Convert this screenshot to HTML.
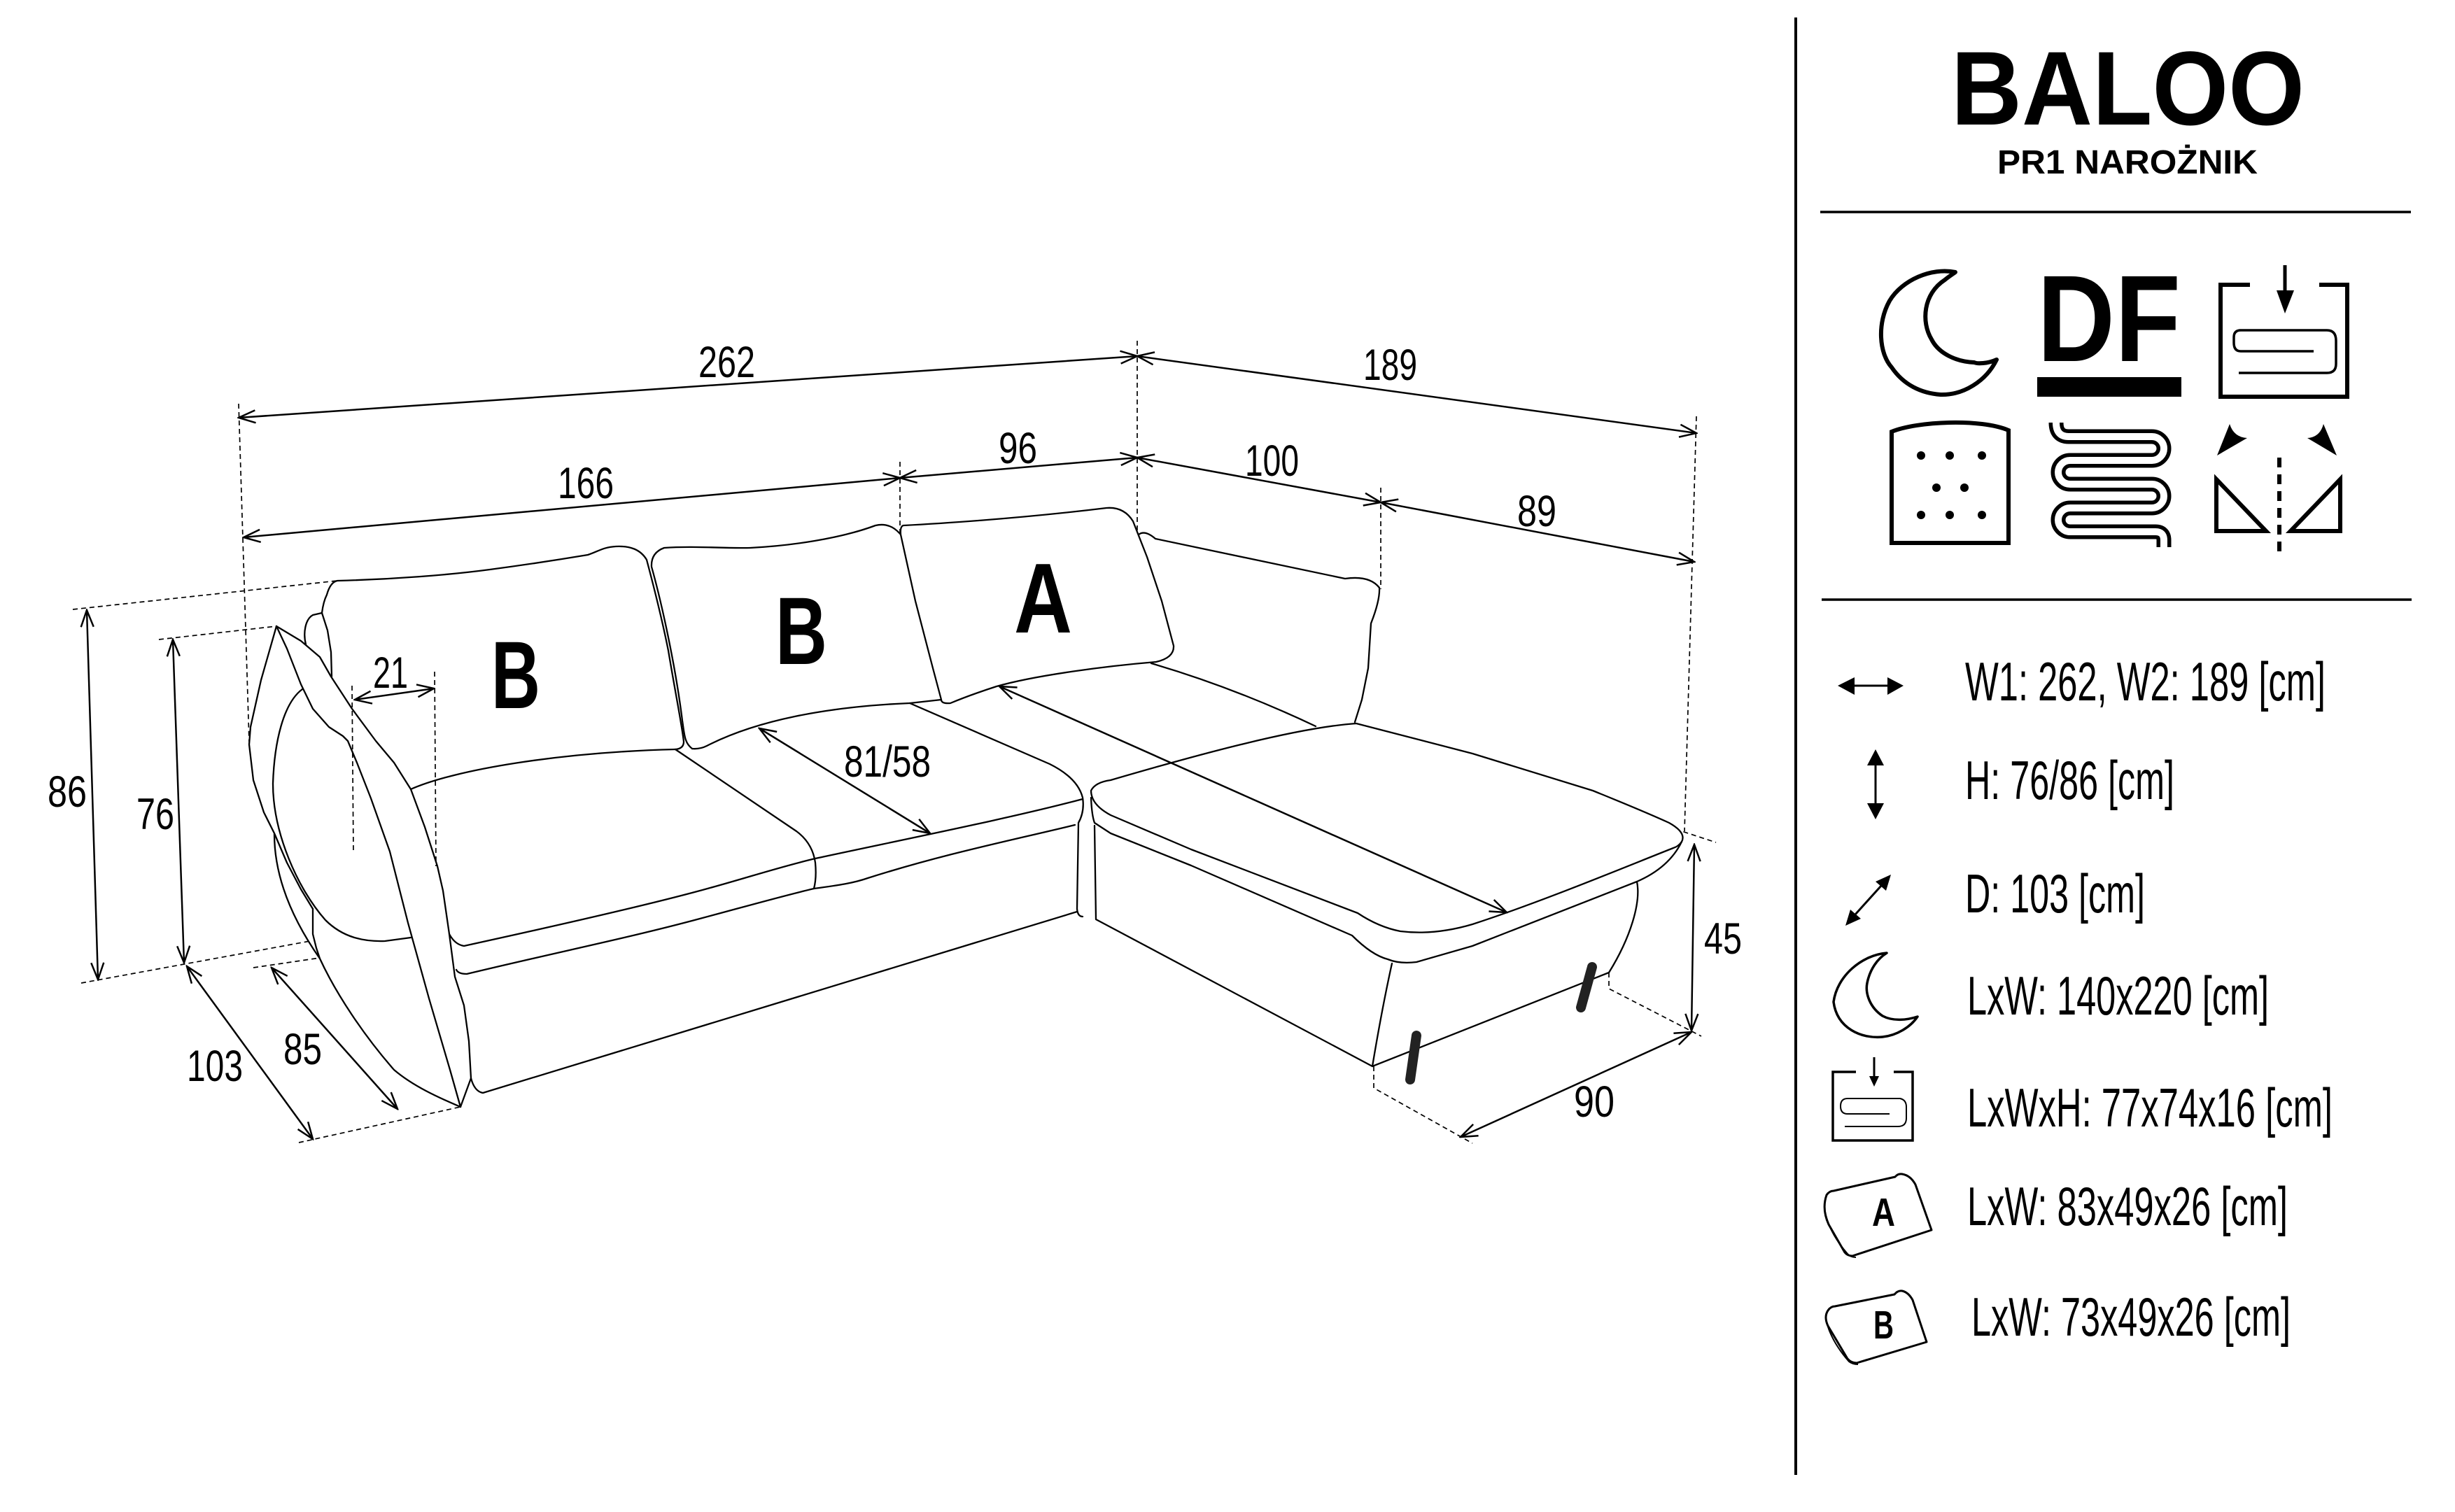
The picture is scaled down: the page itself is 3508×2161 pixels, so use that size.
<!DOCTYPE html>
<html><head><meta charset="utf-8"><style>
html,body{margin:0;padding:0;background:#fff;}
svg{display:block;}
text{font-family:"Liberation Sans",Arial,sans-serif;fill:#000;}
</style></head><body>
<svg width="3508" height="2161" viewBox="0 0 3508 2161" xmlns="http://www.w3.org/2000/svg">
<defs>
<marker id="o" viewBox="0 0 30 24" refX="28" refY="12" markerWidth="30" markerHeight="24" markerUnits="userSpaceOnUse" orient="auto-start-reverse">
<path d="M4,3 L28,12 L4,21" fill="none" stroke="#000" stroke-width="2.5"/>
</marker>
</defs>
<rect width="3508" height="2161" fill="#fff"/>

<!-- ============ DIMENSION LINES ============ -->
<g fill="none" stroke="#000" stroke-width="2.5" marker-start="url(#o)" marker-end="url(#o)">
<path d="M341,597 L1625,509"/>
<path d="M1625,509 L2424,619"/>
<path d="M348,768 L1286,683"/>
<path d="M1286,683 L1625,654"/>
<path d="M1625,654 L1973,718"/>
<path d="M1973,718 L2421,803"/>
<path d="M124,872 L140,1400"/>
<path d="M247,914 L263,1376"/>
<path d="M267,1381 L447,1628"/>
<path d="M388,1383 L568,1585"/>
<path d="M507,1000 L620,984"/>
<path d="M1085,1041 L1329,1191"/>
<path d="M2421,1207 L2417,1473"/>
</g>

<!-- dashed extension lines -->
<g fill="none" stroke="#000" stroke-width="1.7" stroke-dasharray="7 5">
<path d="M341,577 L356,1060"/>
<path d="M1286,660 L1286,762"/>
<path d="M1625,487 L1625,762"/>
<path d="M1973,697 L1973,842"/>
<path d="M2424,595 L2407,1188"/>
<path d="M104,871 L482,830"/>
<path d="M227,914 L395,895"/>
<path d="M116,1405 L443,1345"/>
<path d="M362,1383 L457,1369"/>
<path d="M427,1633 L658,1582"/>
<path d="M503,980 L505,1217"/>
<path d="M621,960 L623,1238"/>
<path d="M2394,1185 L2452,1204"/>
<path d="M2299,1390 L2299,1413 L2431,1481"/>
<path d="M1963,1524 L1963,1555 L2104,1634"/>
</g>

<!-- dimension labels -->
<g font-size="63">
<text x="998" y="539" textLength="81" lengthAdjust="spacingAndGlyphs">262</text>
<text x="1948" y="543" textLength="77" lengthAdjust="spacingAndGlyphs">189</text>
<text x="797" y="712" textLength="80" lengthAdjust="spacingAndGlyphs">166</text>
<text x="1427" y="662" textLength="55" lengthAdjust="spacingAndGlyphs">96</text>
<text x="1779" y="680" textLength="77" lengthAdjust="spacingAndGlyphs">100</text>
<text x="2168" y="752" textLength="56" lengthAdjust="spacingAndGlyphs">89</text>
<text x="68" y="1153" textLength="56" lengthAdjust="spacingAndGlyphs">86</text>
<text x="195" y="1185" textLength="54" lengthAdjust="spacingAndGlyphs">76</text>
<text x="267" y="1545" textLength="80" lengthAdjust="spacingAndGlyphs">103</text>
<text x="405" y="1521" textLength="55" lengthAdjust="spacingAndGlyphs">85</text>
<text x="533" y="983" textLength="50" lengthAdjust="spacingAndGlyphs">21</text>
<text x="1206" y="1110" textLength="124" lengthAdjust="spacingAndGlyphs">81/58</text>
<text x="1740" y="1121" textLength="179" lengthAdjust="spacingAndGlyphs">168/145</text>
<text x="2435" y="1363" textLength="54" lengthAdjust="spacingAndGlyphs">45</text>
<text x="2249" y="1596" textLength="58" lengthAdjust="spacingAndGlyphs">90</text>
</g>

<!-- ============ SOFA ============ -->
<g fill="none" stroke="#000" stroke-width="2.3" stroke-linejoin="round" stroke-linecap="round">
<!-- back cushion B1 -->
<path d="M474,967 L473,932 L468,901 L460,876 Q462,860 467,850 Q472,832 482,830 C 560,828 640,822 700,814 C 760,806 810,798 840,793 C 855,788 862,782 880,781 C 900,780 915,785 924,800 C 932,830 945,880 955,930 C 965,990 975,1040 977,1060 Q977,1070 965,1071"/>
<path d="M437,921 C 433,905 436,885 447,879 L460,876"/>
<path d="M587,1128 C 650,1100 800,1075 965,1071"/>
<!-- back cushion B2 -->
<path d="M989,1070 C 978,1062 978,1050 975,1030 C 965,950 945,860 931,810 Q930,790 949,783 C 990,780 1040,784 1072,783 C 1130,780 1200,770 1251,751 Q1272,746 1287,764"/>
<path d="M989,1070 Q1000,1071 1010,1066 C 1080,1030 1180,1010 1300,1005 L1345,1000"/>
<!-- seat 1 right boundary -->
<path d="M965,1071 L1138,1188 Q1161,1205 1165,1233 Q1167,1255 1163,1270"/>
<!-- seat front top (seat1 + seat2) -->
<path d="M642,1335 Q650,1350 663,1352 C 800,1322 930,1292 1000,1273 C 1060,1257 1110,1240 1165,1227 C 1300,1198 1450,1168 1547,1142"/>
<!-- seat 2 right boundary -->
<path d="M1300,1005 C 1380,1040 1460,1075 1500,1092 Q1540,1112 1547,1140 Q1550,1160 1541,1176 L1539,1299 Q1540,1310 1547,1310"/>
<!-- seat bottom / base top -->
<path d="M652,1386 Q655,1392 667,1392 C 800,1360 900,1340 1000,1313 C 1060,1297 1120,1280 1163,1270 C 1200,1265 1220,1262 1240,1255 C 1350,1220 1450,1200 1536,1179"/>
<!-- base bottom -->
<path d="M673,1541 Q678,1560 690,1562 L1539,1303"/>
<!-- armrest -->
<path d="M395,895 L430,916 L457,939 L473,967 L503,1013 L537,1059 L563,1090 L587,1128 L607,1182 L625,1238 L633,1273 L642,1335 L650,1396 L663,1437 L670,1488 L673,1541 L658,1582"/>
<path d="M395,895 L410,927 L430,978 L447,1013 L470,1039 L490,1052 L497,1059 L510,1090 L530,1141 L557,1217 L583,1319 L613,1427 L643,1529 L658,1582"/>
<path d="M395,895 L373,972 L358,1039 L356,1064 L362,1115 L377,1161 L392,1191 L410,1233 L430,1271 L447,1299"/>
<path d="M432,985 C 405,1005 392,1060 390,1120 C 390,1190 425,1270 465,1315 C 490,1340 520,1346 550,1345 L587,1340"/>
<path d="M392,1192 C 392,1250 415,1310 457,1370 C 480,1420 520,1480 563,1529 C 590,1552 625,1568 658,1582"/>
<path d="M447,1299 L447,1335 L452,1355 L457,1370"/>
<!-- A cushion -->
<path fill="#fff" d="M1291,751 C 1330,749 1450,742 1581,726 Q1606,724 1619,745 L1639,796 L1660,859 L1677,923 Q1678,940 1652,946 C 1580,952 1480,965 1424,981 C 1390,992 1370,1000 1358,1005 Q1345,1006 1345,1000 L1333,955 L1308,859 L1287,764 Q1286,752 1291,751 Z"/>
<!-- corner back -->
<path d="M1627,764 Q1636,757 1651,770 L1922,827 Q1957,822 1971,840 Q1972,858 1959,891 L1955,955 L1946,1000 L1936,1032"/>
<path d="M1645,948 C 1720,970 1800,1000 1880,1038"/>
<!-- chaise top -->
<path fill="#fff" d="M1559,1130 Q1565,1118 1587,1115 C 1700,1082 1850,1040 1938,1034 L2104,1077 L2276,1130 Q2350,1160 2385,1176 Q2410,1190 2403,1203 Q2398,1210 2391,1212 C 2320,1240 2200,1290 2104,1321 Q2050,1337 2001,1331 Q1970,1325 1940,1305 L1702,1214 L1587,1165 Q1559,1150 1559,1130 Z"/>
<path d="M1559,1140 Q1560,1165 1564,1176 L1587,1191 L1702,1237 L1932,1337 Q1960,1365 1983,1371 Q2000,1378 2024,1375 L2104,1352 L2339,1260 Q2385,1240 2403,1203"/>
<!-- chaise base -->
<path d="M1564,1180 L1566,1314 L1961,1524"/>
<path d="M1989,1377 Q1975,1440 1961,1524 L2299,1390"/>
<path d="M2339,1260 C 2345,1290 2330,1340 2299,1390"/>
</g>
<!-- legs -->
<g stroke="#222" stroke-width="14" stroke-linecap="round">
<path d="M2024,1480 L2015,1543"/>
<path d="M2275,1382 L2259,1440"/>
</g>
<!-- arrows drawn over chaise -->
<path d="M1428,981 L2153,1304" fill="none" stroke="#000" stroke-width="2.5" marker-start="url(#o)" marker-end="url(#o)"/>
<path d="M2087,1625 L2417,1475" fill="none" stroke="#000" stroke-width="2.5" marker-start="url(#o)" marker-end="url(#o)"/>

<!-- cushion letters -->
<g font-weight="bold">
<text x="702" y="1012" font-size="137" textLength="70" lengthAdjust="spacingAndGlyphs">B</text>
<text x="1108" y="949" font-size="137" textLength="74" lengthAdjust="spacingAndGlyphs">B</text>
<text x="1449" y="904" font-size="142" textLength="83" lengthAdjust="spacingAndGlyphs">A</text>
</g>

<!-- ============ RIGHT PANEL ============ -->
<line x1="2566" y1="25" x2="2566" y2="2108" stroke="#000" stroke-width="4"/>
<text x="2788" y="178" font-size="150" font-weight="bold" textLength="505" lengthAdjust="spacingAndGlyphs">BALOO</text>
<text x="2854" y="248" font-size="48" font-weight="bold" textLength="372" lengthAdjust="spacingAndGlyphs">PR1 NAROŻNIK</text>
<line x1="2601" y1="303" x2="3445" y2="303" stroke="#000" stroke-width="3.5"/>
<line x1="2603" y1="857" x2="3446" y2="857" stroke="#000" stroke-width="3.5"/>

<!-- icon: moon -->
<path d="M2794,389 C 2760,382 2718,400 2700,430 C 2682,462 2685,505 2703,525 C 2720,550 2745,562 2773,564 C 2805,565 2838,545 2853,514 C 2840,520 2825,520 2821,518 C 2795,517 2770,505 2760,485 C 2745,460 2748,420 2779,400 C 2785,395 2790,392 2794,389 Z" fill="none" stroke="#000" stroke-width="6" stroke-linejoin="round"/>
<!-- icon: DF -->
<text x="2911" y="516" font-size="176" font-weight="bold" textLength="205" lengthAdjust="spacingAndGlyphs">DF</text>
<rect x="2911" y="539" width="206" height="28" fill="#000"/>
<!-- icon: storage -->
<path d="M3215,407 L3173,407 L3173,567 L3354,567 L3354,407 L3314,407" fill="none" stroke="#000" stroke-width="6"/>
<line x1="3265" y1="379" x2="3265" y2="420" stroke="#000" stroke-width="5"/>
<path d="M3253,415 L3278,415 L3265,448 Z" fill="#000"/>
<path d="M3200,472 L3325,472 Q3338,472 3338,487 L3338,520 Q3338,533 3325,533 L3199,533 M3306,502 L3202,502 Q3192,502 3192,490 L3192,482 Q3192,472 3202,472" fill="none" stroke="#000" stroke-width="3.5"/>
<!-- icon: foam -->
<path d="M2703,776 L2703,617 C 2740,602 2830,598 2870,615 L2870,776 Z" fill="none" stroke="#000" stroke-width="6"/>
<g fill="#000">
<circle cx="2745" cy="651" r="6"/><circle cx="2786" cy="651" r="6"/><circle cx="2832" cy="651" r="6"/>
<circle cx="2767" cy="697" r="6"/><circle cx="2807" cy="697" r="6"/>
<circle cx="2745" cy="736" r="6"/><circle cx="2786" cy="736" r="6"/><circle cx="2832" cy="736" r="6"/>
</g>
<!-- icon: spring -->
<path d="M2938,604 Q2938,624 2956,624 L3075,624 A17,17 0 0 1 3075,658 L2958,658 A17,17 0 0 0 2958,692 L3075,692 A17,17 0 0 1 3075,726 L2958,726 A17,17 0 0 0 2958,760 L3080,760 Q3092,760 3092,772 L3092,782" fill="none" stroke="#000" stroke-width="21"/>
<path d="M2938,604 Q2938,624 2956,624 L3075,624 A17,17 0 0 1 3075,658 L2958,658 A17,17 0 0 0 2958,692 L3075,692 A17,17 0 0 1 3075,726 L2958,726 A17,17 0 0 0 2958,760 L3080,760 Q3092,760 3092,772 L3092,782" fill="none" stroke="#fff" stroke-width="10"/>
<!-- icon: triangles -->
<path d="M3186,606 L3168,651 L3211,626 Q3192,625 3186,606 Z" fill="#000"/>
<path d="M3320,606 L3339,651 L3297,626 Q3315,625 3320,606 Z" fill="#000"/>
<line x1="3257" y1="654" x2="3257" y2="790" stroke="#000" stroke-width="6" stroke-dasharray="14 10"/>
<path d="M3167,685 L3167,759 L3238,759 Z" fill="none" stroke="#000" stroke-width="6" stroke-linejoin="miter"/>
<path d="M3344,685 L3344,759 L3273,759 Z" fill="none" stroke="#000" stroke-width="6" stroke-linejoin="miter"/>

<!-- legend icons -->
<line x1="2645" y1="980" x2="2702" y2="980" stroke="#000" stroke-width="3"/>
<path d="M2626,980 L2650,968 L2650,993 Z M2720,980 L2697,968 L2697,993 Z" fill="#000"/>
<line x1="2680" y1="1090" x2="2680" y2="1152" stroke="#000" stroke-width="3"/>
<path d="M2680,1071 L2668,1094 L2692,1094 Z M2680,1171 L2668,1148 L2692,1148 Z" fill="#000"/>
<line x1="2651" y1="1307" x2="2688" y2="1266" stroke="#000" stroke-width="3"/>
<path d="M2637,1323 L2659,1313 L2644,1300 Z M2702,1250 L2695,1273 L2680,1260 Z" fill="#000"/>
<path d="M2696,1362 C 2660,1365 2625,1395 2620,1432 C 2625,1470 2660,1485 2690,1482 C 2710,1480 2730,1468 2740,1453 C 2725,1458 2705,1460 2690,1452 C 2672,1440 2665,1420 2668,1405 C 2672,1385 2683,1370 2696,1362 Z" fill="none" stroke="#000" stroke-width="3.5" stroke-linejoin="round"/>
<path d="M2652,1532 L2619,1532 L2619,1630 L2733,1630 L2733,1532 L2706,1532" fill="none" stroke="#000" stroke-width="3.5"/>
<line x1="2678" y1="1511" x2="2678" y2="1540" stroke="#000" stroke-width="3"/>
<path d="M2678,1553 L2671,1538 L2685,1538 Z" fill="#000"/>
<path d="M2640,1570 L2715,1570 Q2724,1572 2724,1582 L2724,1598 Q2724,1610 2712,1610 L2636,1610 M2700,1592 L2640,1592 Q2630,1592 2630,1581 Q2630,1570 2640,1570" fill="none" stroke="#000" stroke-width="2"/>
<!-- pillow A -->
<path d="M2610,1708 Q2614,1702 2620,1702 L2708,1682 Q2712,1677 2718,1678 Q2730,1680 2737,1693 L2760,1758 L2647,1795 Q2640,1795 2636,1790 L2613,1750 Q2603,1728 2610,1708 Z" fill="none" stroke="#000" stroke-width="3" stroke-linejoin="round"/>
<path d="M2607,1727 Q2612,1760 2640,1792 Q2644,1797 2652,1797" fill="none" stroke="#000" stroke-width="2"/>
<text x="2675" y="1752" font-size="57" font-weight="bold" textLength="33" lengthAdjust="spacingAndGlyphs">A</text>
<!-- pillow B -->
<path d="M2612,1873 Q2616,1867 2622,1867 L2707,1850 Q2712,1844 2718,1845 Q2727,1847 2733,1858 L2753,1918 L2653,1948 Q2645,1948 2640,1942 L2612,1895 Q2606,1882 2612,1873 Z" fill="none" stroke="#000" stroke-width="3" stroke-linejoin="round"/>
<path d="M2609,1885 Q2615,1915 2642,1946 Q2647,1950 2655,1950" fill="none" stroke="#000" stroke-width="2"/>
<text x="2677" y="1913" font-size="57" font-weight="bold" textLength="29" lengthAdjust="spacingAndGlyphs">B</text>

<!-- legend text -->
<g font-size="78">
<text x="2808" y="1001" textLength="515" lengthAdjust="spacingAndGlyphs">W1: 262, W2: 189 [cm]</text>
<text x="2808" y="1142" textLength="299" lengthAdjust="spacingAndGlyphs">H: 76/86 [cm]</text>
<text x="2808" y="1304" textLength="257" lengthAdjust="spacingAndGlyphs">D: 103 [cm]</text>
<text x="2811" y="1450" textLength="431" lengthAdjust="spacingAndGlyphs">LxW: 140x220 [cm]</text>
<text x="2811" y="1610" textLength="522" lengthAdjust="spacingAndGlyphs">LxWxH: 77x74x16 [cm]</text>
<text x="2811" y="1751" textLength="458" lengthAdjust="spacingAndGlyphs">LxW: 83x49x26 [cm]</text>
<text x="2817" y="1909" textLength="456" lengthAdjust="spacingAndGlyphs">LxW: 73x49x26 [cm]</text>
</g>
</svg>
</body></html>
